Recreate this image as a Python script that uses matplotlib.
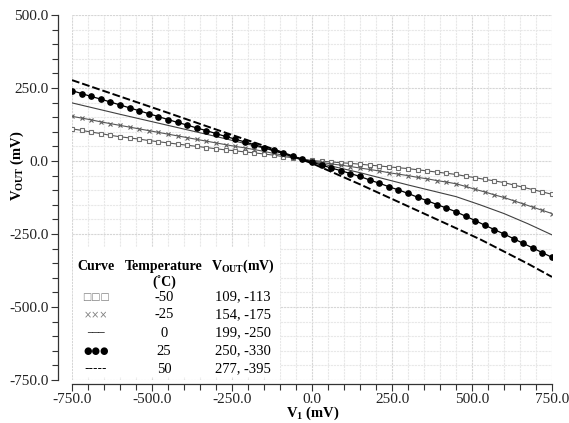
import matplotlib
matplotlib.use("Agg")
import matplotlib.pyplot as plt
from matplotlib.patches import Rectangle
from matplotlib.ticker import MultipleLocator

plt.rcParams['font.family'] = ['Liberation Serif', 'DejaVu Sans']
plt.rcParams['mathtext.fontset'] = 'custom'
plt.rcParams['mathtext.rm'] = 'Liberation Serif'
plt.rcParams['mathtext.bf'] = 'Liberation Serif:bold'
plt.rcParams['axes.unicode_minus'] = False

# V1 sweep (mV), one sample every 30 mV
v1 = list(range(-750, 751, 30))

# VOUT (mV)
vout_m50 = [110, 105, 99, 94, 88, 83, 79, 75, 70, 66, 62, 58, 54, 50, 46, 42, 38, 35, 31, 28,
            24, 20, 15, 11, 6, 2, -1, -3, -6, -8, -11, -14, -17, -20, -23, -26, -30, -34, -38,
            -42, -46, -52, -57, -63, -68, -74, -82, -90, -98, -106, -114]
vout_m25 = [153, 147, 141, 134, 128, 122, 116, 110, 104, 98, 92, 86, 80, 74, 68, 62, 56, 50, 45, 39,
            33, 26, 20, 13, 6, 0, -5, -10, -14, -19, -24, -29, -34, -40, -45, -50, -56, -61, -67,
            -72, -78, -87, -97, -106, -116, -125, -136, -147, -158, -169, -180]
vout_p25 = [241, 231, 221, 212, 202, 192, 182, 172, 162, 152, 142, 132, 123, 113, 104, 94, 84, 75, 65, 56,
            46, 36, 26, 16, 6, -4, -14, -24, -33, -43, -53, -65, -76, -88, -99, -111, -124, -136, -149,
            -161, -174, -189, -204, -220, -235, -250, -266, -282, -298, -314, -330]

# curves drawn without markers, coarser sampling
v1_coarse = [-750, -600, -450, -300, -150, 0, 150, 300, 450, 525, 600, 675, 750]
vout_0 = [199, 160, 122, 84, 44, -2, -40, -82, -122, -150, -180, -215, -253]
vout_p50 = [277, 221, 165, 108, 52, -8, -80, -155, -230, -268, -310, -352, -397]

x_ticks = [-750, -500, -250, 0, 250, 500, 750]
y_ticks = [-750, -500, -250, 0, 250, 500]

legend_temps = ['-50', '-25', '0', '25', '50']
legend_vout = ['109, -113', '154, -175', '199, -250', '250, -330', '277, -395']
legend_syms = ['\u25a1\u25a1\u25a1', '\u00d7\u00d7\u00d7', '\u2500\u2500\u2500', '\u25cf\u25cf\u25cf', '-----']
legend_cols = ['#808080', '#808080', '#333333', 'black', 'black']

W, H = 569, 423
fig = plt.figure(figsize=(W / 100, H / 100), dpi=100)
ax = fig.add_axes([72 / W, 1 - 380 / H, 480 / W, 365 / H])

ax.plot(v1, vout_m50, color='#555555', lw=0.8, marker='s', ms=3.2, mfc='white', mec='#707070', mew=0.8)
ax.plot(v1, vout_m25, color='#555555', lw=0.8, marker='x', ms=3.5, mec='#606060', mew=0.8)
ax.plot(v1_coarse, vout_0, color='#404040', lw=0.8)
ax.plot(v1, vout_p25, color='black', lw=0.9, marker='o', ms=3.8, mfc='black', mec='black')
ax.plot(v1_coarse, vout_p50, color='black', lw=1.4, ls=(0, (4, 1.5)))

ax.set_xlim(-750, 750)
ax.set_ylim(-750, 500)
ax.set_xticks(x_ticks)
ax.set_yticks(y_ticks)
ax.set_xticklabels([f'{t:.1f}' for t in x_ticks])
ax.set_yticklabels([f'{t:.1f}' for t in y_ticks])
ax.xaxis.set_minor_locator(MultipleLocator(50))
ax.yaxis.set_minor_locator(MultipleLocator(50))
ax.tick_params(which='both', direction='out', length=5, width=0.8, color='#333333', labelsize=11,
               labelcolor='#222222')
ax.tick_params(axis='x', pad=1)
ax.tick_params(axis='y', pad=2)
ax.tick_params(which='minor', length=4)

ax.set_axisbelow(True)
ax.grid(which='major', color='#d6d6d6', lw=0.8, ls=(0, (2, 0.8)))
ax.grid(which='minor', color='#e8e8e8', lw=0.8, ls=(0, (2, 0.8)))

for s in ['top', 'right']:
    ax.spines[s].set_visible(False)
ax.spines['left'].set_position(('outward', 10))
ax.spines['bottom'].set_position(('outward', 3))
for s in ['left', 'bottom']:
    ax.spines[s].set_color('#333333')
    ax.spines[s].set_linewidth(0.9)

fig.text(313 / W, 1 - 413 / H, r'$\mathbf{V}_{\mathbf{1}}$ (mV)', ha='center', va='center',
         fontsize=10.5, fontweight='bold')
fig.text(17 / W, 1 - 166 / H, r'$\mathbf{V}_{\mathbf{OUT}}$ (mV)', ha='center', va='center',
         fontsize=10.5, fontweight='bold', rotation=90)

# legend table
ax.add_patch(Rectangle((73 / W, 1 - 377 / H), 207 / W, 130 / H, transform=fig.transFigure,
                       facecolor='white', edgecolor='none', zorder=3))

def ftext(x, y, s, **kw):
    fig.text(x / W, 1 - y / H, s, ha='center', va='center', **kw)

ftext(96, 266, 'Curve', fontsize=10, fontweight='bold')
ftext(164, 266, 'Temperature', fontsize=10, fontweight='bold')
ftext(164, 283, '(\u02daC)', fontsize=10, fontweight='bold')
ftext(243, 266, r'$\mathbf{V}_{\mathbf{OUT}}$(mV)', fontsize=10, fontweight='bold')

rows_y = [297, 315, 333, 351, 369]
for i in range(len(legend_temps)):
    ftext(164, rows_y[i], legend_temps[i], fontsize=10.5)
    ftext(243, rows_y[i], legend_vout[i], fontsize=10.5)
    ftext(96, rows_y[i], legend_syms[i], fontsize=7 if i != 4 else 9, color=legend_cols[i],
          family='DejaVu Sans')

fig.savefig('out.png', dpi=100)
